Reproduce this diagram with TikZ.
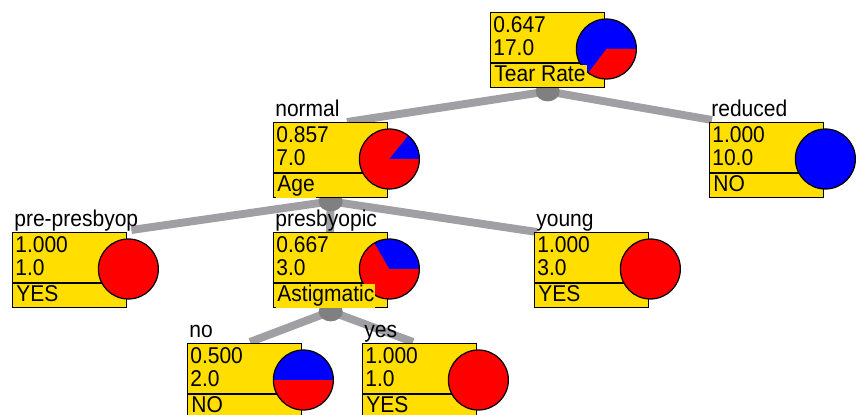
\documentclass[tikz,border=0pt]{standalone}
\usepackage{fontspec}
\newfontfamily\cardfont{Liberation Sans}[FakeStretch=0.92]
\usetikzlibrary{calc,backgrounds}

\definecolor{cardyellow}{RGB}{255,222,0}
\definecolor{edgegray}{RGB}{160,160,164}
\definecolor{hubgray}{RGB}{128,128,128}

% box with value and count
\newcommand{\card}[5]{%
  \node[box] (#1) at (#2,#3) {};
  \draw[sep] ($(#1.north west)+(0,51)$) -- ($(#1.north east)+(0,51)$);
  \node[txt] (#1-val) at ($(#1.north west)+(3,21)$) {#4};
  \node[txt] (#1-num) at ($(#1.north west)+(3,44)$) {#5};
}
% pie on the right edge of a box
\newcommand{\pie}[5]{%
  \coordinate (#1-c) at ($(#1.north east)+(1,37)$);
  \fill[#2] (#1-c) circle[radius=0.6cm];
  \fill[#3] (#1-c) -- ++(#4:0.6cm) arc[start angle=#4,end angle=#5,radius=0.6cm] -- cycle;
  \draw[line width=0.7pt] (#1-c) circle[radius=0.6cm];
}

\begin{document}
\begin{tikzpicture}[x=0.02cm,y=-0.02cm,
   box/.style={rectangle,draw,line width=0.8pt,fill=cardyellow,anchor=north west,
    minimum width=2.28cm,minimum height=1.5cm,inner sep=0pt},
   sep/.style={line width=0.8pt},
   txt/.style={anchor=base west,inner sep=0pt,font=\cardfont\fontsize{13}{15}\selectfont},
   attr/.style={txt,fill=cardyellow,inner sep=0.6pt},
   edge/.style={draw=edgegray,line width=4.5pt},
   hub/.style={fill=hubgray}
   ]
  \useasboundingbox (0,0) rectangle (860,415);
  \clip (0,0) rectangle (860,415);

  % -- boxes
  \card{root}{490}{12}{0.647}{17.0}
  \card{normal}{273}{122}{0.857}{7.0}
  \card{reduced}{709}{122}{1.000}{10.0}
  \card{prepres}{12}{232}{1.000}{1.0}
  \card{presb}{273}{232}{0.667}{3.0}
  \card{young}{534}{232}{1.000}{3.0}
  \card{astno}{187}{343}{0.500}{2.0}
  \card{astyes}{362}{343}{1.000}{1.0}

  % -- pies
  \pie{root}{blue}{red}{0}{-127}
  \pie{normal}{red}{blue}{0}{51}
  \pie{reduced}{blue}{blue}{0}{0}
  \pie{prepres}{red}{red}{0}{0}
  \pie{presb}{red}{blue}{0}{120}
  \pie{young}{red}{red}{0}{0}
  \pie{astno}{red}{blue}{0}{180}
  \pie{astyes}{red}{red}{0}{0}

  % -- attributes and classes
  \node[attr] (root-att) at ($(root.north west)+(3,70)$) {Tear Rate};
  \node[attr] (normal-att) at ($(normal.north west)+(3,70)$) {Age};
  \node[attr] (reduced-att) at ($(reduced.north west)+(3,70)$) {NO};
  \node[attr] (prepres-att) at ($(prepres.north west)+(3,70)$) {YES};
  \node[attr] (presb-att) at ($(presb.north west)+(3,70)$) {Astigmatic};
  \node[attr] (young-att) at ($(young.north west)+(3,70)$) {YES};
  \node[attr] (astno-att) at ($(astno.north west)+(3,70)$) {NO};
  \node[attr] (astyes-att) at ($(astyes.north west)+(3,70)$) {YES};

  % -- branch labels
  \node[txt] (normal-br) at ($(normal.north west)+(2,-5)$) {normal};
  \node[txt] (reduced-br) at ($(reduced.north west)+(2,-5)$) {reduced};
  \node[txt] (prepres-br) at ($(prepres.north west)+(2,-5)$) {pre-presbyop};
  \node[txt] (presb-br) at ($(presb.north west)+(2,-5)$) {presbyopic};
  \node[txt] (young-br) at ($(young.north west)+(2,-5)$) {young};
  \node[txt] (astno-br) at ($(astno.north west)+(2,-5)$) {no};
  \node[txt] (astyes-br) at ($(astyes.north west)+(2,-5)$) {yes};

  % -- branches
  \begin{pgfonlayer}{background}
    \coordinate (root-hub) at ($(root.south)+(0,3)$);
    \coordinate (normal-hub) at ($(normal.south)+(0,3)$);
    \coordinate (presb-hub) at ($(presb.south)+(0,3)$);
    \draw[edge] (root-hub) -- ($(normal.north west)+(74,0)$);
    \draw[edge] (root-hub) -- ($(reduced.north west)+(3,-2)$);
    \draw[edge] (normal-hub) -- ($(prepres.north east)+(4,-2)$);
    \draw[edge] (normal-hub) -- ($(presb.north west)+(57,0)$);
    \draw[edge] (normal-hub) -- ($(young.north west)+(3,0)$);
    \draw[edge] (presb-hub) -- ($(astno.north west)+(63,-1)$);
    \draw[edge] (presb-hub) -- ($(astyes.north west)+(51,-1)$);
    \foreach \h in {root,normal,presb}
      \fill[hub] (\h-hub) ellipse[x radius=0.24cm,y radius=0.2cm];
  \end{pgfonlayer}

\end{tikzpicture}
\end{document}
